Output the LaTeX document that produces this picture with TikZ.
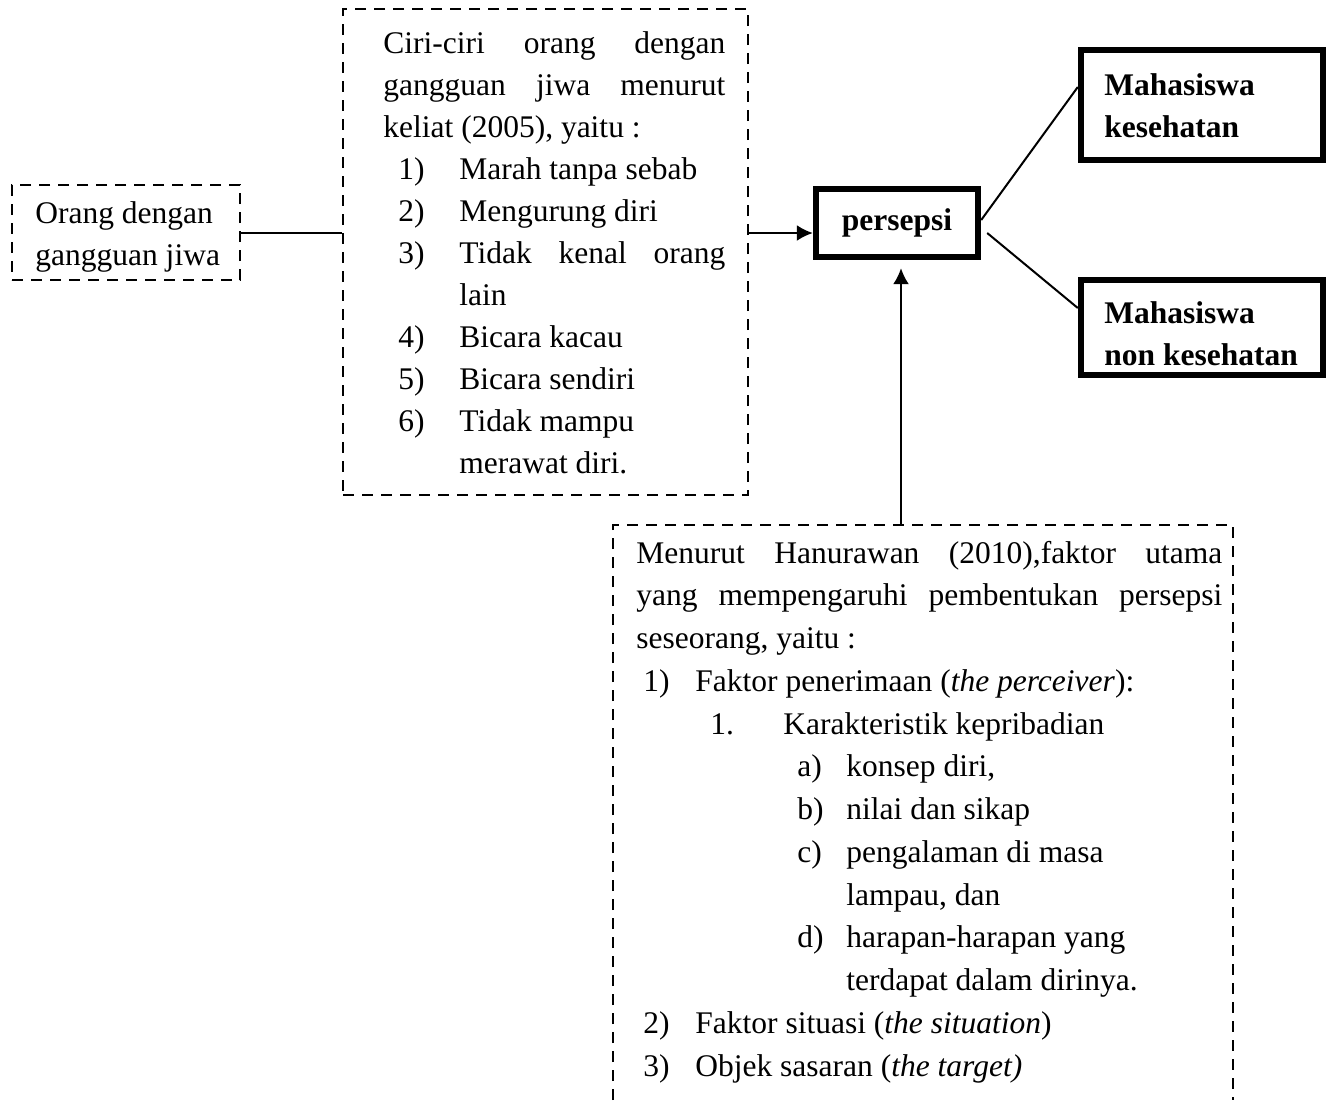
\documentclass[tikz,border=0pt]{standalone}
\usepackage{fontspec}
\setmainfont{Liberation Serif}
\usetikzlibrary{arrows.meta}
\newcommand\fsA{\fontsize{15.75}{21}\selectfont}
\newcommand\fsC{\fontsize{15.75}{21.375}\selectfont}
\newcommand\numB[1]{\hspace*{7.5pt}\makebox[30.5pt][l]{#1}}
\newcommand\numC[1]{\hspace*{3.5pt}\makebox[26pt][l]{#1}}
\newcommand\subC[1]{\hspace*{80.5pt}\makebox[24.5pt][l]{#1}}
\begin{document}
\begin{tikzpicture}[x=0.5pt,y=-0.5pt,
  dashbox/.style={draw, line width=1.2pt, dash pattern=on 5.5pt off 4pt, inner sep=0},
  dashline/.style={line width=1.2pt, dash pattern=on 5.5pt off 4pt},
  thickbox/.style={draw, line width=3.2pt, inner sep=0},
  conn/.style={line width=1pt},
  arr/.style={conn, -{Latex[length=8pt,width=8pt]}},
  txt/.style={anchor=base west, inner sep=0, font=\fsA}]
\useasboundingbox (0,0) rectangle (1328,1100);

% left box
\node[dashbox, minimum width=114pt, minimum height=47.5pt] (boxA) at (126,232.5) {};
\begin{scope}
\clip (0,180) rectangle (243,271);
\node[txt] (tA) at (35,223) {\parbox[t]{110pt}{Orang dengan\\gangguan jiwa}};
\end{scope}

% middle box
\node[dashbox, minimum width=202.5pt, minimum height=243pt] (boxB) at (545.5,252) {};
\node[txt] (tB) at (383,53) {\parbox[t]{171pt}{%
\makebox[171pt][s]{Ciri-ciri orang dengan}\\
\makebox[171pt][s]{gangguan jiwa menurut}\\
keliat (2005), yaitu :\\
\numB{1)}Marah tanpa sebab\\
\numB{2)}Mengurung diri\\
\numB{3)}\makebox[133pt][s]{Tidak kenal orang}\\
\hspace*{38pt}lain\\
\numB{4)}Bicara kacau\\
\numB{5)}Bicara sendiri\\
\numB{6)}Tidak mampu\\
\hspace*{38pt}merawat diri.}};

% persepsi
\node[thickbox, minimum width=81pt, minimum height=34pt, font=\fsA\bfseries] (p) at (897,223) {persepsi};

% right boxes
\node[thickbox, minimum width=121pt, minimum height=55pt] (m1) at (1202,105) {};
\node[txt, font=\fsA\bfseries] (m1t) at (1104,95) {\parbox[t]{110pt}{Mahasiswa\\kesehatan}};
\node[thickbox, minimum width=121pt, minimum height=47.5pt] (m2) at (1202,327.5) {};
\node[txt, font=\fsA\bfseries] (m2t) at (1104,323) {\parbox[t]{110pt}{Mahasiswa\\non kesehatan}};

% bottom box
\node[minimum width=310pt, minimum height=287.5pt, anchor=north west, inner sep=0, outer sep=0] (boxC) at (613,525) {};
\draw[dashline] (boxC.south west) -- (boxC.north west) -- (boxC.north east) -- (boxC.south east);
\node[txt, font=\fsC] (tC) at (636,563) {\parbox[t]{293pt}{%
\makebox[293pt][s]{Menurut Hanurawan (2010),faktor utama}\\
\makebox[293pt][s]{yang mempengaruhi pembentukan persepsi}\\
seseorang, yaitu :\\
\numC{1)}Faktor penerimaan (\textit{the perceiver}):\\
\hspace*{37pt}\makebox[36.5pt][l]{1.}Karakteristik kepribadian\\
\subC{a)}konsep diri,\\
\subC{b)}nilai dan sikap\\
\subC{c)}pengalaman di masa\\
\hspace*{105pt}lampau, dan\\
\subC{d)}harapan-harapan yang\\
\hspace*{105pt}terdapat dalam dirinya.\\
\numC{2)}Faktor situasi (\textit{the situation})\\
\numC{3)}Objek sasaran (\textit{the target)}}};

% connectors
\draw[conn] (boxA.east) -- (boxA.east -| boxB.west);
\coordinate (pin) at ([yshift=-5pt]p.west);
\draw[arr] (pin -| boxB.east) -- (pin);
\coordinate (pup) at ([xshift=2pt,yshift=-4pt]p.south);
\draw[arr] (pup |- boxC.north) -- (pup);
\draw[conn] ([yshift=1.5pt]p.east) -- ([yshift=9pt]m1.west);
\draw[conn] ([xshift=3pt,yshift=-5pt]p.east) -- ([yshift=9.75pt]m2.west);
\end{tikzpicture}
\end{document}
